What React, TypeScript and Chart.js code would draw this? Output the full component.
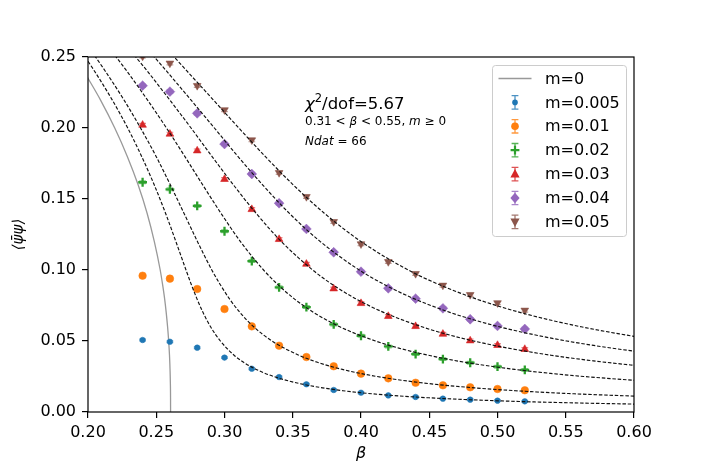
import React, { useEffect, useRef } from 'react';
import { Chart, registerables } from 'chart.js';

Chart.register(...registerables);

// ---------- data ----------
const BETA = [0.24, 0.26, 0.28, 0.30, 0.32, 0.34, 0.36, 0.38, 0.40, 0.42, 0.44, 0.46, 0.48, 0.50, 0.52];

const PSI_M0005 = [0.0507, 0.0495, 0.0453, 0.0383, 0.0305, 0.0246, 0.0195, 0.0155, 0.0136, 0.0117, 0.0106, 0.0094, 0.0087, 0.0080, 0.0075];
const PSI_M001 = [0.0960, 0.0939, 0.0866, 0.0725, 0.0603, 0.0467, 0.0387, 0.0322, 0.0270, 0.0237, 0.0206, 0.0188, 0.0174, 0.0162, 0.0153];
const PSI_M002 = [0.1618, 0.1568, 0.1451, 0.1273, 0.1063, 0.0878, 0.0739, 0.0617, 0.0537, 0.0462, 0.0408, 0.0373, 0.0347, 0.0319, 0.0296];
const PSI_M003 = [0.2021, 0.1958, 0.1840, 0.1639, 0.1427, 0.1216, 0.1042, 0.0868, 0.0765, 0.0674, 0.0603, 0.0549, 0.0502, 0.0470, 0.0442];
const PSI_M004 = [0.2298, 0.2256, 0.2103, 0.1887, 0.1676, 0.1470, 0.1289, 0.1125, 0.0988, 0.0871, 0.0798, 0.0730, 0.0653, 0.0606, 0.0585];
const PSI_M005 = [0.2505, 0.2456, 0.2298, 0.2127, 0.1915, 0.1685, 0.1516, 0.1340, 0.1183, 0.1058, 0.0974, 0.0892, 0.0826, 0.0768, 0.0716];

const ERR = [0.0006, 0.0008, 0.0010, 0.0012, 0.0012, 0.0012];

const SERIES_LABELS = ['m=0.005', 'm=0.01', 'm=0.02', 'm=0.03', 'm=0.04', 'm=0.05'];
const CRIT_LABEL = 'm=0';

// fitted curves: [beta, psi]
const FIT_M0005: [number, number][] = [[0.1906, 0.26], [0.1979, 0.25], [0.2048, 0.24], [0.2176, 0.22], [0.2291, 0.20], [0.2393, 0.18], [0.2485, 0.16], [0.2568, 0.14], [0.2644, 0.12], [0.2718, 0.10], [0.2756, 0.09], [0.2797, 0.08], [0.2843, 0.07], [0.2898, 0.06], [0.2970, 0.05], [0.3070, 0.04], [0.3140, 0.035], [0.3232, 0.03], [0.3360, 0.025], [0.3551, 0.02], [0.3867, 0.015], [0.4183, 0.012], [0.4499, 0.01], [0.4972, 0.008], [0.5311, 0.007], [0.5762, 0.006], [0.6049, 0.0055]];
const FIT_M001: [number, number][] = [[0.1979, 0.26], [0.2055, 0.25], [0.2127, 0.24], [0.2262, 0.22], [0.2385, 0.20], [0.2499, 0.18], [0.2603, 0.16], [0.2703, 0.14], [0.2802, 0.12], [0.2907, 0.10], [0.2967, 0.09], [0.3034, 0.08], [0.3114, 0.07], [0.3214, 0.06], [0.3348, 0.05], [0.3544, 0.04], [0.3681, 0.035], [0.3863, 0.03], [0.4118, 0.025], [0.4497, 0.02], [0.4833, 0.017], [0.5130, 0.015], [0.5519, 0.013], [0.6049, 0.011]];
const FIT_M002: [number, number][] = [[0.2124, 0.26], [0.2206, 0.25], [0.2285, 0.24], [0.2434, 0.22], [0.2575, 0.20], [0.2709, 0.18], [0.2840, 0.16], [0.2974, 0.14], [0.3117, 0.12], [0.3286, 0.10], [0.3388, 0.09], [0.3507, 0.08], [0.3655, 0.07], [0.3845, 0.06], [0.4106, 0.05], [0.4277, 0.045], [0.4491, 0.04], [0.4763, 0.035], [0.5126, 0.03], [0.5408, 0.027], [0.5633, 0.025], [0.6047, 0.022]];
const FIT_M003: [number, number][] = [[0.2263, 0.26], [0.2350, 0.25], [0.2435, 0.24], [0.2597, 0.22], [0.2755, 0.20], [0.2908, 0.18], [0.3065, 0.16], [0.3231, 0.14], [0.3417, 0.12], [0.3646, 0.10], [0.3787, 0.09], [0.3957, 0.08], [0.4169, 0.07], [0.4446, 0.06], [0.4619, 0.055], [0.4825, 0.05], [0.5077, 0.045], [0.5391, 0.04], [0.5703, 0.036], [0.5987, 0.033], [0.6092, 0.032]];
const FIT_M004: [number, number][] = [[0.2394, 0.26], [0.2486, 0.25], [0.2576, 0.24], [0.2752, 0.22], [0.2926, 0.20], [0.3098, 0.18], [0.3279, 0.16], [0.3474, 0.14], [0.3702, 0.12], [0.3987, 0.10], [0.4166, 0.09], [0.4383, 0.08], [0.4656, 0.07], [0.4822, 0.065], [0.5013, 0.06], [0.5239, 0.055], [0.5507, 0.05], [0.5835, 0.045], [0.6068, 0.042]];
const FIT_M005: [number, number][] = [[0.2532, 0.26], [0.2631, 0.25], [0.2726, 0.24], [0.2916, 0.22], [0.3105, 0.20], [0.3298, 0.18], [0.3503, 0.16], [0.3731, 0.14], [0.4001, 0.12], [0.4346, 0.10], [0.4566, 0.09], [0.4833, 0.08], [0.4991, 0.075], [0.5170, 0.07], [0.5375, 0.065], [0.5613, 0.06], [0.5833, 0.056], [0.5893, 0.055], [0.6019, 0.053]];
const CRIT_M0: [number, number][] = [[0.1969, 0.24], [0.2000, 0.235], [0.2090, 0.22], [0.2196, 0.20], [0.2288, 0.18], [0.2367, 0.16], [0.2433, 0.14], [0.2486, 0.12], [0.2529, 0.10], [0.2546, 0.09], [0.2561, 0.08], [0.2573, 0.07], [0.2583, 0.06], [0.2591, 0.05], [0.2597, 0.04], [0.2601, 0.03], [0.26035, 0.02], [0.26047, 0.01], [0.2605, 0.0]];

const X_MIN = 0.2, X_MAX = 0.6, X_STEP = 0.05;
const Y_MIN = 0.0, Y_MAX = 0.25, Y_STEP = 0.05;

const ANNOT_CHI = '5.67';
const ANNOT_RANGE = ['0.31', '0.55'];
const ANNOT_NDAT = '66';

// ---------- styling ----------
const COLORS = ['#1f77b4', '#ff7f0e', '#2ca02c', '#d62728', '#9467bd', '#8c564b'];
const MARKERS = ['dot', 'circle', 'plus', 'tri', 'diamond', 'tridown'];
const FONT = '"DejaVu Sans", sans-serif';

const W = 706, H = 471;
const AREA = { left: 88, top: 57, right: 634, bottom: 412 };

function pathMarker(ctx: CanvasRenderingContext2D, kind: string, x: number, y: number, color: string) {
  ctx.save();
  ctx.fillStyle = color;
  ctx.strokeStyle = color;
  ctx.beginPath();
  if (kind === 'dot') {
    ctx.arc(x, y, 2.8, 0, Math.PI * 2);
    ctx.fill();
  } else if (kind === 'circle') {
    ctx.arc(x, y, 3.8, 0, Math.PI * 2);
    ctx.fill();
  } else if (kind === 'plus') {
    ctx.lineWidth = 2.2;
    ctx.moveTo(x - 4.4, y); ctx.lineTo(x + 4.4, y);
    ctx.moveTo(x, y - 4.4); ctx.lineTo(x, y + 4.4);
    ctx.stroke();
  } else if (kind === 'tri') {
    ctx.moveTo(x, y - 5); ctx.lineTo(x + 4.6, y + 3.5); ctx.lineTo(x - 4.6, y + 3.5); ctx.closePath();
    ctx.fill();
  } else if (kind === 'tridown') {
    ctx.moveTo(x, y + 5); ctx.lineTo(x + 4.6, y - 3.5); ctx.lineTo(x - 4.6, y - 3.5); ctx.closePath();
    ctx.fill();
  } else if (kind === 'diamond') {
    ctx.moveTo(x, y - 5.2); ctx.lineTo(x + 4.6, y); ctx.lineTo(x, y + 5.2); ctx.lineTo(x - 4.6, y); ctx.closePath();
    ctx.fill();
  }
  ctx.restore();
}

function drawSegments(ctx: CanvasRenderingContext2D, x: number, y: number, segs: { t: string; it?: boolean; size: number; dy?: number }[]) {
  let cx = x;
  for (const s of segs) {
    ctx.font = `${s.it ? 'italic ' : ''}${s.size}px ${FONT}`;
    ctx.fillText(s.t, cx, y + (s.dy || 0));
    cx += ctx.measureText(s.t).width;
  }
}

const decor = {
  id: 'decor',
  beforeDatasetsDraw(chart: any) {
    const ctx: CanvasRenderingContext2D = chart.ctx;
    const ys = chart.scales.y;
    const a = chart.chartArea;
    ctx.save();
    ctx.beginPath();
    ctx.rect(a.left, a.top, a.right - a.left, a.bottom - a.top);
    ctx.clip();
    chart.data.datasets.forEach((ds: any, i: number) => {
      if (ds.seriesIndex === undefined) return;
      const meta = chart.getDatasetMeta(i);
      const k = ds.seriesIndex;
      ctx.strokeStyle = COLORS[k];
      ctx.globalAlpha = 0.55;
      ctx.lineWidth = 1.2;
      meta.data.forEach((el: any, j: number) => {
        const v = ds.data[j].y;
        const y1 = ys.getPixelForValue(v + ERR[k]);
        const y2 = ys.getPixelForValue(v - ERR[k]);
        ctx.beginPath();
        ctx.moveTo(el.x, y1); ctx.lineTo(el.x, y2);
        ctx.moveTo(el.x - 3.4, y1); ctx.lineTo(el.x + 3.4, y1);
        ctx.moveTo(el.x - 3.4, y2); ctx.lineTo(el.x + 3.4, y2);
        ctx.stroke();
      });
    });
    ctx.restore();
  },
  afterDraw(chart: any) {
    const ctx: CanvasRenderingContext2D = chart.ctx;
    const a = chart.chartArea;
    ctx.save();
    // frame
    ctx.strokeStyle = '#000';
    ctx.lineWidth = 1.2;
    ctx.strokeRect(a.left, a.top, a.right - a.left, a.bottom - a.top);

    // axis titles
    ctx.fillStyle = '#000';
    ctx.textAlign = 'center';
    ctx.textBaseline = 'middle';
    ctx.font = `italic 16px ${FONT}`;
    ctx.fillText('β', (a.left + a.right) / 2, 454);
    ctx.save();
    ctx.translate(19, (a.top + a.bottom) / 2);
    ctx.rotate(-Math.PI / 2);
    ctx.font = `italic 15px ${FONT}`;
    ctx.fillText('⟨ψ̄ψ⟩', 0, 0);
    ctx.restore();

    // annotation
    ctx.textAlign = 'left';
    ctx.textBaseline = 'alphabetic';
    drawSegments(ctx, 305, 108.5, [
      { t: 'χ', it: true, size: 16.5 },
      { t: '2', size: 11.5, dy: -6.5 },
      { t: '/dof=' + ANNOT_CHI, size: 16.5 },
    ]);
    drawSegments(ctx, 305, 125, [
      { t: ANNOT_RANGE[0] + ' < ', size: 12 },
      { t: 'β', it: true, size: 12 },
      { t: ' < ' + ANNOT_RANGE[1] + ', ', size: 12 },
      { t: 'm', it: true, size: 12 },
      { t: ' ≥ 0', size: 12 },
    ]);
    drawSegments(ctx, 305, 145, [
      { t: 'Ndat', it: true, size: 12 },
      { t: ' = ' + ANNOT_NDAT, size: 12 },
    ]);

    // legend
    const bx = 492.5, by = 65.5, bw = 134, bh = 171, r = 3;
    ctx.beginPath();
    ctx.moveTo(bx + r, by);
    ctx.arcTo(bx + bw, by, bx + bw, by + bh, r);
    ctx.arcTo(bx + bw, by + bh, bx, by + bh, r);
    ctx.arcTo(bx, by + bh, bx, by, r);
    ctx.arcTo(bx, by, bx + bw, by, r);
    ctx.closePath();
    ctx.fillStyle = 'rgba(255,255,255,0.8)';
    ctx.fill();
    ctx.strokeStyle = '#cccccc';
    ctx.lineWidth = 1;
    ctx.stroke();

    const rowY = (i: number) => 78.5 + i * 23.9;
    const hx = 515;
    ctx.font = `16px ${FONT}`;
    ctx.textBaseline = 'middle';
    ctx.fillStyle = '#000';
    // m=0 entry
    ctx.strokeStyle = '#999999';
    ctx.lineWidth = 1.4;
    ctx.beginPath();
    ctx.moveTo(498.5, rowY(0)); ctx.lineTo(531.5, rowY(0));
    ctx.stroke();
    ctx.fillText(CRIT_LABEL, 545, rowY(0) + 1);
    SERIES_LABELS.forEach((lab, i) => {
      const y = rowY(i + 1);
      ctx.save();
      ctx.strokeStyle = COLORS[i];
      ctx.globalAlpha = 0.8;
      ctx.lineWidth = 1.3;
      ctx.beginPath();
      ctx.moveTo(hx, y - 6.7); ctx.lineTo(hx, y + 6.7);
      ctx.moveTo(hx - 3.4, y - 6.7); ctx.lineTo(hx + 3.4, y - 6.7);
      ctx.moveTo(hx - 3.4, y + 6.7); ctx.lineTo(hx + 3.4, y + 6.7);
      ctx.stroke();
      ctx.restore();
      pathMarker(ctx, MARKERS[i], hx, y, COLORS[i]);
      ctx.fillStyle = '#000';
      ctx.font = `16px ${FONT}`;
      ctx.fillText(lab, 545, y + 1);
    });
    ctx.restore();
  },
};

const POINT_STYLE: Record<string, any> = {
  dot: { pointStyle: 'circle', pointRadius: 2.8, rotation: 0, borderWidth: 0.5 },
  circle: { pointStyle: 'circle', pointRadius: 3.8, rotation: 0, borderWidth: 0.5 },
  plus: { pointStyle: 'cross', pointRadius: 4.4, rotation: 0, borderWidth: 2.3 },
  tri: { pointStyle: 'triangle', pointRadius: 4.5, rotation: 0, borderWidth: 0.5 },
  diamond: { pointStyle: 'rectRot', pointRadius: 4.9, rotation: 0, borderWidth: 0.5 },
  tridown: { pointStyle: 'triangle', pointRadius: 4.5, rotation: 180, borderWidth: 0.5 },
};

export default function App() {
  const ref = useRef<HTMLCanvasElement | null>(null);
  useEffect(() => {
    if (!ref.current) return;
    const toXY = (arr: [number, number][]) => arr.map(([x, y]) => ({ x, y }));
    const fits = [FIT_M0005, FIT_M001, FIT_M002, FIT_M003, FIT_M004, FIT_M005];
    const series = [PSI_M0005, PSI_M001, PSI_M002, PSI_M003, PSI_M004, PSI_M005];
    const datasets: any[] = [];
    datasets.push({
      label: CRIT_LABEL,
      data: toXY(CRIT_M0),
      showLine: true,
      borderColor: '#999999',
      borderWidth: 1.3,
      pointRadius: 0,
      cubicInterpolationMode: 'monotone',
      order: 3,
      clip: 0,
    });
    fits.forEach((f) => {
      datasets.push({
        data: toXY(f),
        showLine: true,
        borderColor: '#111111',
        borderWidth: 1.15,
        borderDash: [3.5, 1.8],
        pointRadius: 0,
        cubicInterpolationMode: 'monotone',
        order: 1,
        clip: 0,
      });
    });
    series.forEach((s, i) => {
      const st = POINT_STYLE[MARKERS[i]];
      datasets.push({
        label: SERIES_LABELS[i],
        seriesIndex: i,
        data: BETA.map((b, j) => ({ x: b, y: s[j] })),
        showLine: false,
        pointStyle: st.pointStyle,
        pointRadius: st.pointRadius,
        rotation: st.rotation,
        borderWidth: st.borderWidth,
        backgroundColor: COLORS[i],
        borderColor: COLORS[i],
        order: 2,
        clip: 0,
      });
    });

    const chart = new Chart(ref.current, {
      type: 'scatter',
      data: { datasets },
      options: {
        responsive: false,
        animation: false,
        events: [],
        layout: { padding: { left: 0, top: AREA.top, right: W - AREA.right, bottom: 0 } },
        plugins: { legend: { display: false }, tooltip: { enabled: false } },
        scales: {
          x: {
            type: 'linear',
            min: X_MIN,
            max: X_MAX,
            afterFit: (s: any) => { s.height = H - AREA.bottom; },
            ticks: {
              stepSize: X_STEP,
              callback: (v: any) => Number(v).toFixed(2),
              color: '#000',
              font: { family: FONT, size: 16 },
              padding: 5,
              maxRotation: 0,
              autoSkip: false,
            },
            grid: { display: true, drawOnChartArea: false, drawTicks: true, tickLength: 6, color: '#000', lineWidth: 1.2 },
            border: { display: false },
          },
          y: {
            type: 'linear',
            min: Y_MIN,
            max: Y_MAX,
            afterFit: (s: any) => { s.width = AREA.left; },
            ticks: {
              stepSize: Y_STEP,
              callback: (v: any) => Number(v).toFixed(2),
              color: '#000',
              font: { family: FONT, size: 16 },
              padding: 6,
              autoSkip: false,
            },
            grid: { display: true, drawOnChartArea: false, drawTicks: true, tickLength: 6, color: '#000', lineWidth: 1.2 },
            border: { display: false },
          },
        },
      } as any,
      plugins: [decor],
    });
    return () => chart.destroy();
  }, []);

  return (
    <div style={{ position: 'absolute', left: 0, top: 0, width: W, height: H, background: '#fff' }}>
      <canvas ref={ref} width={W} height={H} style={{ width: W, height: H, display: 'block' }} />
    </div>
  );
}
